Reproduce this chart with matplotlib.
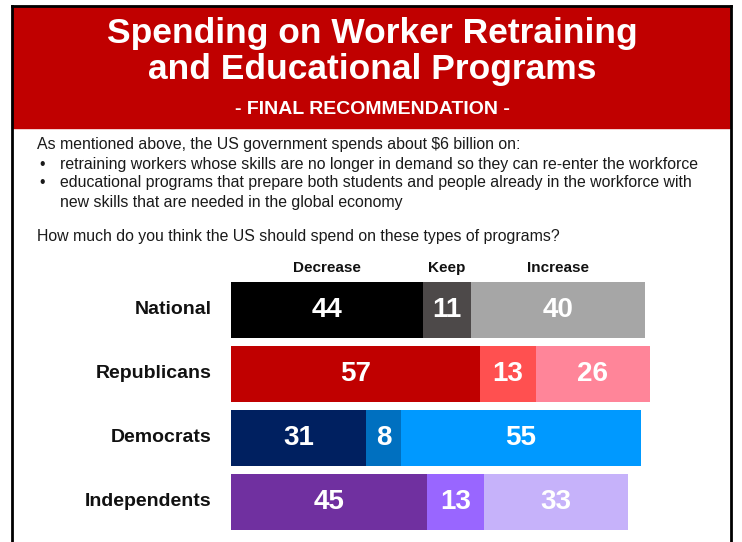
import matplotlib

matplotlib.use("Agg")
import matplotlib.pyplot as plt
from matplotlib.lines import Line2D
from matplotlib.patches import Rectangle

# survey results, percent
groups = ["National", "Republicans", "Democrats", "Independents"]
columns = ["Decrease", "Keep", "Increase"]
decrease = [44, 57, 31, 45]
keep = [11, 13, 8, 13]
increase = [40, 26, 55, 33]

group_colors = {
    "National": ["#000000", "#4D4949", "#A6A6A6"],
    "Republicans": ["#C00000", "#FF5050", "#FF8599"],
    "Democrats": ["#002060", "#0070C0", "#0099FF"],
    "Independents": ["#7030A0", "#9966FF", "#C6B2FA"],
}

title_lines = ["Spending on Worker Retraining", "and Educational Programs"]
subtitle = "- FINAL RECOMMENDATION -"
intro = "As mentioned above, the US government spends about $6 billion on:"
bullets = [
    ["retraining workers whose skills are no longer in demand so they can re-enter the workforce"],
    ["educational programs that prepare both students and people already in the workforce with",
     "new skills that are needed in the global economy"],
]
question = "How much do you think the US should spend on these types of programs?"

W, H = 742, 542
RED = "#C00000"
FONT = "Liberation Sans"

fig = plt.figure(figsize=(W / 100, H / 100), dpi=100)
fig.patch.set_facecolor("white")


def fx(x):
    return x / W


def fy(y):
    return 1 - y / H


# header band and frame
fig.patches.append(Rectangle((fx(12), fy(128)), fx(718), 122 / H,
                             transform=fig.transFigure, color=RED, zorder=0))
for xs, ys in [([12.5, 12.5], [6, H]), ([731, 731], [6, H]), ([12, 731], [6, 6])]:
    fig.add_artist(Line2D([fx(v) for v in xs], [fy(v) for v in ys],
                          transform=fig.transFigure, color="black", lw=2))

for txt, y in zip(title_lines, [33, 70]):
    fig.text(fx(372), fy(y), txt, ha="center", va="center", color="white",
             fontsize=25.5, fontweight="bold", family=FONT)
fig.text(fx(372), fy(110), subtitle, ha="center", va="center", color="white",
         fontsize=14, fontweight="bold", family=FONT)

body = dict(ha="left", va="center", color="#1A1A1A", fontsize=11.4, family=FONT)
fig.text(fx(37), fy(145), intro, **body)
y = 164
for item in bullets:
    fig.text(fx(39), fy(y), "\u2022", **body)
    for line in item:
        fig.text(fx(60), fy(y), line, **body)
        y += 19
fig.text(fx(37), fy(237), question, **body)

# stacked bars
ax = fig.add_axes([fx(231), fy(534), 436 / W, 256 / H])
ax.set_xlim(0, 100)
ax.set_ylim(len(groups) - 0.5, -0.5)
ax.axis("off")

for i, g in enumerate(groups):
    left = 0
    for j, v in enumerate([decrease[i], keep[i], increase[i]]):
        ax.barh(i, v, left=left, height=0.875, color=group_colors[g][j], edgecolor="none")
        ax.text(left + v / 2, i, str(v), ha="center", va="center", color="white",
                fontsize=20, fontweight="bold", family=FONT)
        left += v
    ax.text(-4.4, i, g, ha="right", va="center", color="#111111",
            fontsize=14, fontweight="bold", family=FONT)

first = [decrease[0], keep[0], increase[0]]
left = 0
for name, v in zip(columns, first):
    ax.text(left + v / 2, -0.66, name, ha="center", va="center", color="#111111",
            fontsize=11, fontweight="bold", family=FONT)
    left += v

fig.savefig("out.png", dpi=100)
